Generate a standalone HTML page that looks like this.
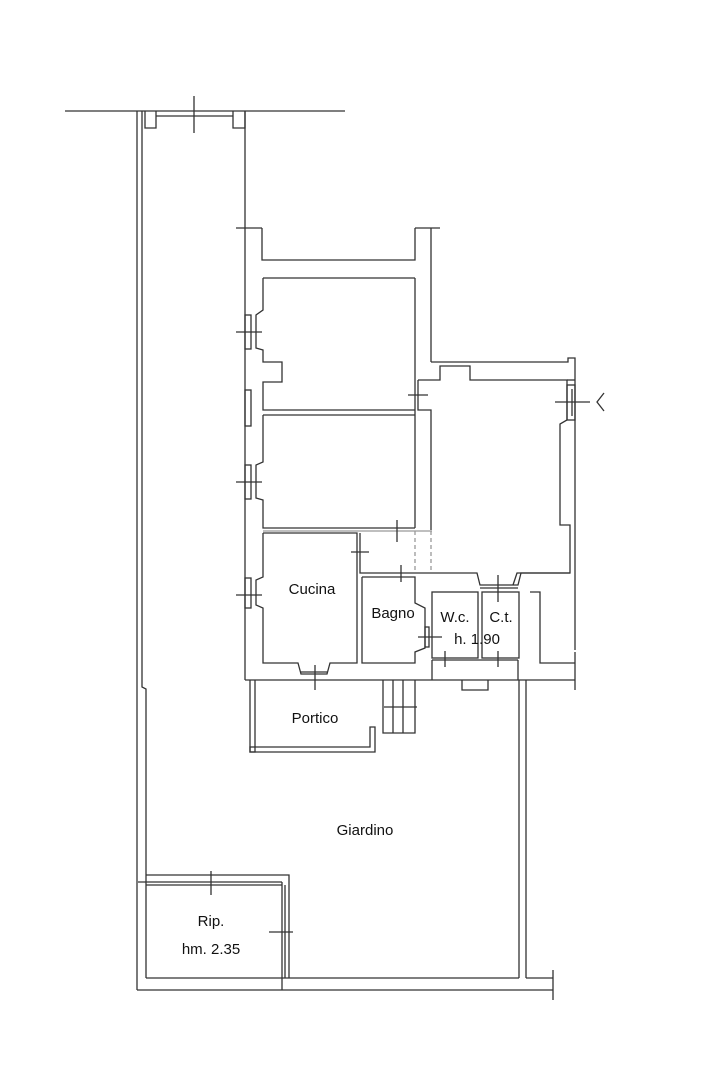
<!DOCTYPE html>
<html><head><meta charset="utf-8"><style>
html,body{margin:0;padding:0;background:#fff}
svg{display:block}
text{font-family:"Liberation Sans",Arial,sans-serif;font-size:15px;fill:#111;text-anchor:middle}
</style></head><body>
<svg width="716" height="1074" viewBox="0 0 716 1074" xmlns="http://www.w3.org/2000/svg">
<g stroke="#333" stroke-width="1.3" fill="none">
<line x1="65" y1="111" x2="345" y2="111"/>
<polyline points="145,111 145,128 156,128 156,111"/>
<polyline points="233,111 233,128 245,128 245,111"/>
<line x1="156" y1="116" x2="233" y2="116"/>
<line x1="194" y1="96" x2="194" y2="133"/>
<line x1="137" y1="111" x2="137" y2="990"/>
<polyline points="142,111 142,687 146,689 146,978"/>
<line x1="245" y1="111" x2="245" y2="228"/>
<line x1="236" y1="228" x2="262" y2="228"/>
<polyline points="262,228 262,260 415,260 415,228"/>
<line x1="415" y1="228" x2="440" y2="228"/>
<line x1="431" y1="228" x2="431" y2="362"/>
<line x1="245" y1="228" x2="245" y2="680"/>
<polyline points="431,362 568,362 568,358 575,358 575,650"/>
<polyline points="418,380 440,380 440,366 470,366 470,380 567,380 567,420 560,424 560,525 570,525 570,573 517,573 513,585"/>
<line x1="567" y1="380" x2="575" y2="380"/>
<rect x="567" y="385" width="8" height="35"/>
<line x1="555" y1="402" x2="590" y2="402"/>
<line x1="572" y1="389" x2="572" y2="416"/>
<polyline points="604,393 597,402 604,411"/>
<line x1="415" y1="278" x2="415" y2="528"/>
<polyline points="418,380 418,410 431,410 431,530"/>
<line x1="408" y1="395" x2="428" y2="395"/>
<polyline points="263,278 415,278"/>
<polyline points="263,278 263,310 256,315 256,348 263,350 263,362 282,362 282,382 263,382 263,410 415,410"/>
<rect x="245" y="315" width="6" height="34"/>
<line x1="236" y1="332" x2="262" y2="332"/>
<rect x="245" y="390" width="6" height="36"/>
<polyline points="263,415 415,415"/>
<polyline points="263,415 263,462 256,465 256,498 263,500 263,528 415,528"/>
<rect x="245" y="465" width="6" height="34"/>
<line x1="236" y1="482" x2="262" y2="482"/>
<g stroke="#999">
<line x1="263" y1="531" x2="432" y2="531"/>
<line x1="415" y1="531" x2="415" y2="573" stroke-dasharray="4,3"/>
<line x1="431" y1="531" x2="431" y2="573" stroke-dasharray="4,3"/>
</g>
<line x1="397" y1="520" x2="397" y2="542"/>
<polyline points="263,533 357,533 357,663 330,663 327,674 301,674 298,663 263,663 263,608 256,605 256,580 263,577 263,533"/>
<rect x="245" y="578" width="6" height="30"/>
<line x1="236" y1="595" x2="262" y2="595"/>
<line x1="315" y1="665" x2="315" y2="690"/>
<line x1="301" y1="672" x2="327" y2="672"/>
<polyline points="360,533 360,573 415,573"/>
<line x1="351" y1="552" x2="369" y2="552"/>
<line x1="401" y1="565" x2="401" y2="582"/>
<polyline points="362,577 415,577 415,603 425,608 425,648 415,652 415,663 362,663 362,577"/>
<rect x="425" y="627" width="4" height="20"/>
<line x1="418" y1="637" x2="442" y2="637"/>
<polyline points="415,573 477,573 480,585 518,585 521,573 570,573"/>
<line x1="480" y1="588" x2="518" y2="588"/>
<rect x="432" y="592" width="46" height="66"/>
<rect x="482" y="592" width="37" height="66"/>
<line x1="498" y1="575" x2="498" y2="602"/>
<line x1="445" y1="651" x2="445" y2="667"/>
<line x1="498" y1="651" x2="498" y2="667"/>
<line x1="432" y1="660" x2="518" y2="660"/>
<line x1="432" y1="660" x2="432" y2="680"/>
<line x1="518" y1="660" x2="518" y2="680"/>
<polyline points="530,592 540,592 540,663 575,663"/>
<line x1="575" y1="652" x2="575" y2="690"/>
<polyline points="462,680 462,690 488,690 488,680"/>
<line x1="245" y1="680" x2="575" y2="680"/>
<polyline points="250,680 250,752 375,752 375,727 370,727 370,747 255,747 255,680"/>
<rect x="250" y="747" width="5" height="5"/>
<polyline points="383,680 383,733 415,733 415,680"/>
<line x1="393" y1="680" x2="393" y2="733"/>
<line x1="403" y1="680" x2="403" y2="733"/>
<line x1="384" y1="707" x2="417" y2="707"/>
<line x1="519" y1="680" x2="519" y2="978"/>
<line x1="526" y1="680" x2="526" y2="978"/>
<line x1="526" y1="978" x2="553" y2="978"/>
<line x1="553" y1="970" x2="553" y2="1000"/>
<line x1="137" y1="990" x2="553" y2="990"/>
<line x1="146" y1="978" x2="519" y2="978"/>
<polyline points="146,875 289,875 289,978"/>
<line x1="138" y1="882" x2="282" y2="882"/>
<line x1="146" y1="885" x2="282" y2="885"/>
<line x1="282" y1="882" x2="282" y2="978"/>
<line x1="285" y1="885" x2="285" y2="978"/>
<line x1="211" y1="871" x2="211" y2="895"/>
<line x1="269" y1="932" x2="293" y2="932"/>
<line x1="282" y1="978" x2="282" y2="990"/>
</g>
<text x="312" y="594">Cucina</text>
<text x="393" y="618">Bagno</text>
<text x="455" y="622">W.c.</text>
<text x="501" y="622">C.t.</text>
<text x="477" y="644">h. 1.90</text>
<text x="315" y="723">Portico</text>
<text x="365" y="835">Giardino</text>
<text x="211" y="926">Rip.</text>
<text x="211" y="954">hm. 2.35</text>
</svg>
</body></html>
